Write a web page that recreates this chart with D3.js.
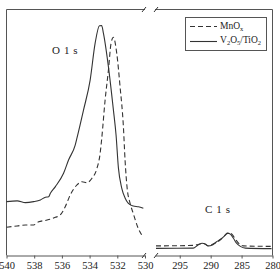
<!DOCTYPE html>
<html>
<head>
<meta charset="utf-8">
<script src="https://cdn.jsdelivr.net/npm/d3@7"></script>
<style>
  body { margin: 0; background: #fff; }
  svg { display: block; font-family: "Liberation Serif", "Times New Roman", serif; }
</style>
</head>
<body>
<div id="chart"></div>
<script>
// Binding energy (eV) and intensity (a.u.).
// O 1s region, V2O5/TiO2 (solid line).
var o1sVtiBE  = [540.00, 539.23, 538.63, 538.04, 537.55, 537.19, 536.96, 536.83, 536.47, 535.88,
                 535.52, 535.04, 534.91, 534.44, 533.96, 533.60, 533.29, 533.13, 533.00, 532.64,
                 532.28, 532.09, 531.92, 531.68, 531.44, 531.20, 530.84, 530.48, 530.12];
var o1sVtiInt = [21.9, 22.2, 21.5, 21.9, 22.6, 23.7, 23.9, 25.3, 28.0, 33.4,
                 38.8, 44.9, 47.8, 59.1, 71.3, 86.3, 93.4, 93.5, 90.3, 76.7,
                 59.1, 49.0, 35.6, 27.4, 23.4, 21.2, 20.1, 19.8, 19.2];
// O 1s region, MnOx (dashed line).
var o1sMnBE  = [540.00, 539.23, 538.63, 538.04, 537.68, 537.07, 536.47, 536.12, 535.76, 535.40,
                534.91, 534.55, 534.19, 533.83, 533.47, 533.24, 533.12, 532.88, 532.64, 532.45,
                532.28, 532.04, 531.80, 531.56, 531.44, 531.29, 531.08, 530.86, 530.50, 530.14];
var o1sMnInt = [11.5, 12.0, 12.4, 12.4, 13.7, 14.4, 15.5, 16.5, 19.8, 24.6,
                28.7, 30.0, 29.6, 31.4, 35.4, 41.5, 47.8, 63.2, 75.4, 86.3,
                88.7, 82.2, 68.6, 52.4, 38.8, 27.4, 21.3, 17.3, 11.2, 7.5];
// C 1s region, V2O5/TiO2 (solid line).
var c1sVtiBE  = [298.84, 292.83, 292.02, 291.37, 290.88, 290.39, 289.74, 289.09, 288.44, 287.79,
                 287.31, 286.82, 286.34, 285.85, 285.20, 284.38, 280.16];
var c1sVtiInt = [2.9, 3.0, 4.3, 5.0, 4.7, 3.9, 4.3, 5.5, 6.5, 7.9,
                 9.1, 8.7, 7.1, 5.1, 3.7, 3.0, 2.8];
// C 1s region, MnOx (dashed line).
var c1sMnBE  = [298.84, 292.83, 292.02, 291.20, 290.39, 289.58, 288.77, 288.12, 287.47, 286.98,
                286.50, 286.01, 285.36, 284.71, 280.16];
var c1sMnInt = [3.9, 4.1, 4.5, 4.9, 3.9, 4.7, 5.7, 7.1, 8.7, 9.1,
                8.5, 6.7, 4.7, 3.9, 3.7];

// Tick labels of the two broken x-axis segments.
var leftTicks = [540, 538, 536, 534, 532, 530];
var rightTicks = [295, 290, 285, 280];

var W = 280, H = 277;
var svg = d3.select('#chart').append('svg')
    .attr('width', W)
    .attr('height', H);

// Scales: broken x axis (left: O 1s, right: C 1s), shared y.
var xLeft = d3.scaleLinear().domain([540, 530]).range([6.5, 145]);
var xRight = d3.scaleLinear().domain([299, 280]).range([155, 272.5]);
var y = d3.scaleLinear().domain([0, 100]).range([255.5, 9.5]);

var frame = '#555';

// Bottom axes.
function styleAxis(g) {
    g.select('.domain').attr('stroke', frame);
    g.selectAll('.tick line').attr('stroke', frame);
    g.selectAll('.tick text')
        .attr('fill', '#222')
        .style('font-size', '10.5px')
        .style('font-family', '"Liberation Serif", "Times New Roman", serif');
}
svg.append('g')
    .attr('transform', 'translate(0,' + y(0) + ')')
    .call(d3.axisBottom(xLeft).tickValues(leftTicks).tickSizeInner(3).tickSizeOuter(0).tickPadding(3))
    .call(styleAxis);
svg.append('g')
    .attr('transform', 'translate(0,' + y(0) + ')')
    .call(d3.axisBottom(xRight).tickValues(rightTicks).tickSizeInner(3).tickSizeOuter(0).tickPadding(3))
    .call(styleAxis);

// Frame: left, right and broken top border.
var yTop = y(100), yBot = y(0);
svg.append('line').attr('x1', xLeft(540)).attr('x2', xLeft(540)).attr('y1', yTop).attr('y2', yBot)
    .attr('stroke', frame);
svg.append('line').attr('x1', xRight(280)).attr('x2', xRight(280)).attr('y1', yTop).attr('y2', yBot)
    .attr('stroke', frame);
svg.append('line').attr('x1', xLeft(540)).attr('x2', xLeft(530)).attr('y1', yTop).attr('y2', yTop)
    .attr('stroke', frame);
svg.append('line').attr('x1', xRight(299)).attr('x2', xRight(280)).attr('y1', yTop).attr('y2', yTop)
    .attr('stroke', frame);

// Break marks on top and bottom.
[yTop, yBot].forEach(function (yy) {
    [xLeft(530) - 1, xRight(299) + 1].forEach(function (xx) {
        svg.append('line')
            .attr('x1', xx - 2).attr('y1', yy + 2.5)
            .attr('x2', xx + 2).attr('y2', yy - 2.5)
            .attr('stroke', '#333').attr('stroke-width', 1);
    });
});

// Spectra.
function drawLine(xs, be, val, dashed) {
    var pts = be.map(function (b, i) { return [xs(b), y(val[i])]; });
    var line = d3.line().curve(d3.curveMonotoneX);
    svg.append('path')
        .attr('d', line(pts))
        .attr('fill', 'none')
        .attr('stroke', '#333')
        .attr('stroke-width', 1.1)
        .attr('stroke-dasharray', dashed ? '5,3' : null);
}
drawLine(xLeft, o1sMnBE, o1sMnInt, true);
drawLine(xLeft, o1sVtiBE, o1sVtiInt, false);
drawLine(xRight, c1sMnBE, c1sMnInt, true);
drawLine(xRight, c1sVtiBE, c1sVtiInt, false);

// Region labels.
svg.append('text').attr('x', 52).attr('y', 54)
    .style('font-size', '11px').style('letter-spacing', '0.6px').attr('fill', '#222')
    .text('O 1 s');
svg.append('text').attr('x', 205).attr('y', 213)
    .style('font-size', '11px').style('letter-spacing', '0.6px').attr('fill', '#222')
    .text('C 1 s');

// Legend.
var legend = svg.append('g');
legend.append('rect')
    .attr('x', 185.5).attr('y', 17.5).attr('width', 81).attr('height', 33)
    .attr('fill', '#fff').attr('stroke', frame);
legend.append('line').attr('x1', 190).attr('x2', 217).attr('y1', 26.5).attr('y2', 26.5)
    .attr('stroke', '#333').attr('stroke-width', 1.1).attr('stroke-dasharray', '5,3');
legend.append('line').attr('x1', 190).attr('x2', 217).attr('y1', 41.5).attr('y2', 41.5)
    .attr('stroke', '#333').attr('stroke-width', 1.1);

// Legend texts with subscripts.
var t1 = legend.append('text').attr('x', 220).attr('y', 29).style('font-size', '9.5px').attr('fill', '#222');
t1.append('tspan').text('MnO');
t1.append('tspan').text('x').style('font-size', '6.5px').attr('dy', 2);

var t2 = legend.append('text').attr('x', 220).attr('y', 43).style('font-size', '9.5px').attr('fill', '#222');
t2.append('tspan').text('V');
t2.append('tspan').text('2').style('font-size', '6.5px').attr('dy', 2);
t2.append('tspan').text('O').attr('dy', -2);
t2.append('tspan').text('5').style('font-size', '6.5px').attr('dy', 2);
t2.append('tspan').text('/TiO').attr('dy', -2);
t2.append('tspan').text('2').style('font-size', '6.5px').attr('dy', 2);
</script>
</body>
</html>
